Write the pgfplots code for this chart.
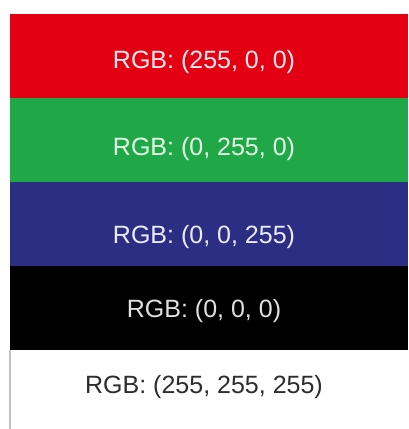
\documentclass[border=0pt]{standalone}
\usepackage{pgfplots}
\pgfplotsset{compat=1.18}
\usepackage{fontspec}
\setmainfont{Liberation Sans}
\definecolor{cred}{RGB}{228,0,18}
\definecolor{cgreen}{RGB}{32,168,72}
\definecolor{cblue}{RGB}{44,46,132}
\definecolor{cblack}{RGB}{0,0,0}
\definecolor{ctext}{RGB}{45,45,45}
\definecolor{cedge}{RGB}{195,195,195}
\tikzset{lab/.style={font=\fontsize{25}{30}\selectfont, anchor=base, inner sep=0pt}}
\begin{document}
\begin{tikzpicture}
\begin{axis}[
  width=408pt, height=429pt, scale only axis,
  xmin=-10, xmax=398, ymin=0, ymax=429, y dir=reverse,
  axis lines=none, ticks=none,
  axis background/.style={fill=white},
  clip=true,
]
\addplot[xbar, bar width=84, fill=cred, draw=none] coordinates {(398,56)};
\addplot[xbar, bar width=84, fill=cgreen, draw=none] coordinates {(398,140)};
\addplot[xbar, bar width=84, fill=cblue, draw=none] coordinates {(398,224)};
\addplot[xbar, bar width=84, fill=cblack, draw=none] coordinates {(398,308)};
\addplot[xbar, bar width=84, fill=white, draw=none] coordinates {(398,392)};
\addplot[cedge, line width=1.5pt, no marks] coordinates {(0,350) (0,429)};
\node[lab, text=white!92!red] at (axis cs:194,68) {RGB: (255, 0, 0)};
\node[lab, text=white!90!green] at (axis cs:194,155) {RGB: (0, 255, 0)};
\node[lab, text=white!92!blue] at (axis cs:194,243) {RGB: (0, 0, 255)};
\node[lab, text=white!88!black] at (axis cs:194,317) {RGB: (0, 0, 0)};
\node[lab, text=ctext] at (axis cs:194,393) {RGB: (255, 255, 255)};
\end{axis}
\end{tikzpicture}
\end{document}
